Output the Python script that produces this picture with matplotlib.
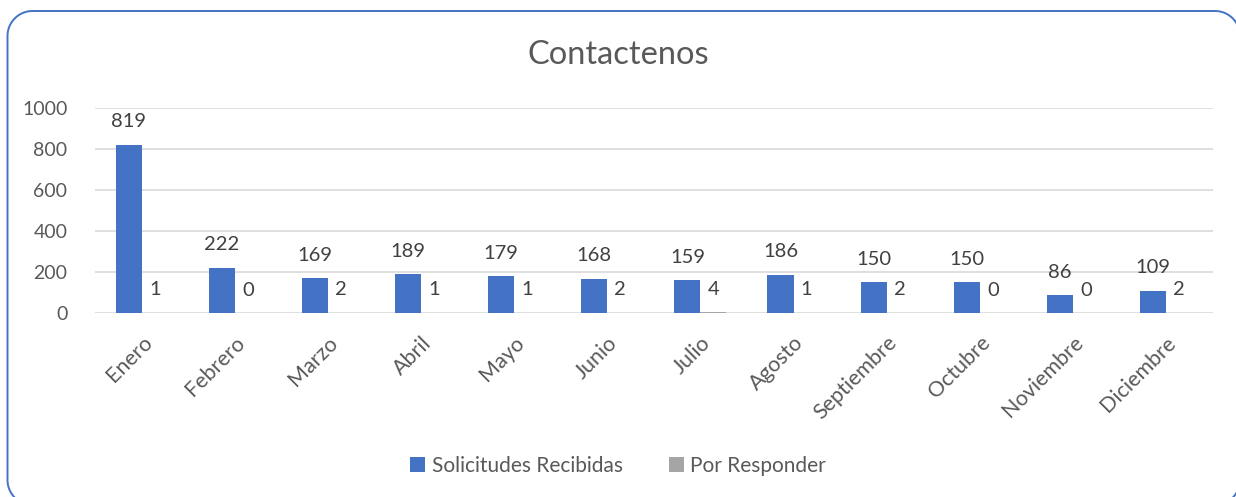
import numpy as np
import matplotlib
matplotlib.use("Agg")
import matplotlib.pyplot as plt
from matplotlib.lines import Line2D

meses = ["Enero", "Febrero", "Marzo", "Abril", "Mayo", "Junio", "Julio",
         "Agosto", "Septiembre", "Octubre", "Noviembre", "Diciembre"]
recibidas = [819, 222, 169, 189, 179, 168, 159, 186, 150, 150, 86, 109]
por_responder = [1, 0, 2, 1, 1, 2, 4, 1, 2, 0, 0, 2]

azul = "#4472C4"
gris = "#A5A5A5"
texto = "#595959"

plt.rcParams['font.family'] = ['Lato', 'DejaVu Sans']

fig = plt.figure(figsize=(12.36, 4.97), dpi=100)
ax = fig.add_axes([0.077, 0.370, 0.904, 0.413])


def marco_redondeado(x0, y0, x1, y1, r):
    # contorno de rectangulo con esquinas redondeadas, en pixeles
    t = np.linspace(0, np.pi / 2, 20)
    esquinas = [
        (x1 - r, y1 - r, t),
        (x0 + r, y1 - r, t + np.pi / 2),
        (x0 + r, y0 + r, t + np.pi),
        (x1 - r, y0 + r, t + 3 * np.pi / 2),
    ]
    xs, ys = [], []
    for cx, cy, a in esquinas:
        xs.extend(cx + r * np.cos(a))
        ys.extend(cy + r * np.sin(a))
    xs.append(xs[0])
    ys.append(ys[0])
    return xs, ys


# borde del grafico: parte derecha e inferior quedan fuera de la imagen
bx, by = marco_redondeado(7.5, -8, 1240, 486, 25)
fig.add_artist(Line2D(bx, by, transform=None, color=azul, linewidth=1.4))

x = np.arange(len(meses))
w = 0.28
b1 = ax.bar(x - w / 2, recibidas, w, color=azul, label="Solicitudes Recibidas", zorder=3)
b2 = ax.bar(x + w / 2, por_responder, w, color=gris, label="Por Responder", zorder=3)

ax.bar_label(b1, padding=10.5, fontsize=14.5, color="#404040")
ax.bar_label(b2, padding=10.5, fontsize=14.5, color="#404040")

ax.set_xlim(-0.5, len(meses) - 0.5)
ax.set_ylim(0, 1000)
ax.set_yticks(range(0, 1001, 200))
ax.set_xticks(x)
ax.set_xticklabels(meses, rotation=45, ha="right", rotation_mode="anchor")
ax.tick_params(axis="y", length=0, labelsize=14, colors=texto, pad=20)
ax.tick_params(axis="x", length=0, labelsize=15.5, colors=texto, pad=14)
ax.grid(axis="y", color="#D9D9D9", linewidth=1.2, zorder=0)
for s in ax.spines.values():
    s.set_visible(False)

fig.text(0.5, 0.89, "Contactenos", ha="center", va="center", fontsize=23.5, color=texto)

fig.legend(loc="center", bbox_to_anchor=(0.5, 0.063), ncol=2, frameon=False,
           fontsize=15, labelcolor=texto, handlelength=0.75, handleheight=0.75,
           columnspacing=2.2, handletextpad=0.3)

plt.savefig("out.png", dpi=100)
plt.close()
